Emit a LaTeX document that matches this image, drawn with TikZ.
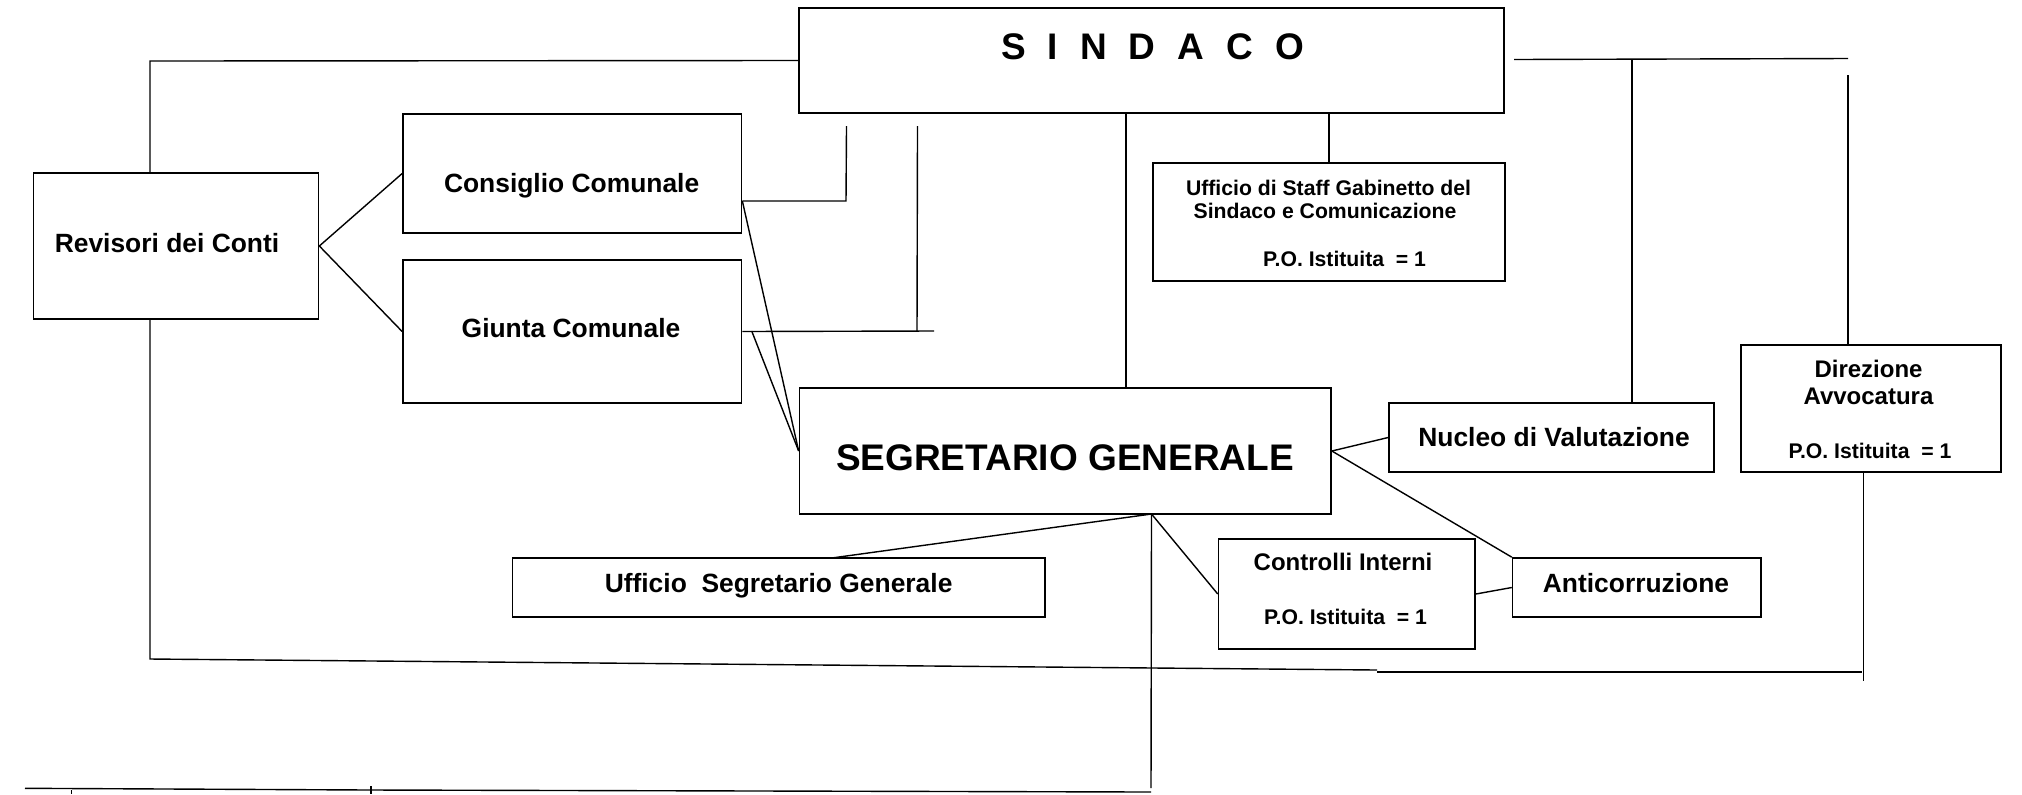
\documentclass[tikz,border=0pt]{standalone}
\usepackage{fontspec}
\setmainfont{Liberation Sans}
\begin{document}
\begin{tikzpicture}[x=0.5pt,y=-0.5pt,
  box/.style={draw,line width=0.85pt,inner sep=0pt},
  lnk/.style={line width=0.7pt},
  txt/.style={anchor=base,inner sep=0pt,font=\bfseries\fontsize{13.2}{15}\selectfont},
  txtm/.style={anchor=base,inner sep=0pt,font=\bfseries\fontsize{12}{14}\selectfont},
  txts/.style={anchor=base,inner sep=0pt,font=\bfseries\fontsize{10.6}{12}\selectfont},
  txtl/.style={anchor=base,inner sep=0pt,font=\bfseries\fontsize{18.5}{22}\selectfont}]
\fill[white] (0,0) rectangle (2022,794);
\useasboundingbox (0,0) rectangle (2022,794);

% boxes
\node[box,minimum width=352.5pt,minimum height=52.5pt] (sindaco) at (1151.5,60.5) {};
\node[box,minimum width=142.5pt,minimum height=73pt] (rev) at (176,246) {};
\node[box,minimum width=169.25pt,minimum height=59.5pt] (cons) at (572.25,173.5) {};
\node[box,minimum width=169.25pt,minimum height=71.5pt] (giunta) at (572.25,331.5) {};
\node[box,minimum width=176pt,minimum height=59pt] (staff) at (1329,222) {};
\node[box,minimum width=265.75pt,minimum height=63pt] (sg) at (1065.25,451) {};
\node[box,minimum width=162.5pt,minimum height=34.5pt] (nucleo) at (1551.5,437.5) {};
\node[box,minimum width=130pt,minimum height=63.5pt] (dir) at (1871,408.5) {};
\node[box,minimum width=128.2pt,minimum height=55.3pt] (contr) at (1346.8,594) {};
\node[box,minimum width=124.2pt,minimum height=29.5pt] (anti) at (1636.8,587.5) {};
\node[box,minimum width=266.2pt,minimum height=29.5pt] (ufsg) at (778.8,587.5) {};

% texts
\node[txtl] (sindacot) at (1152.5,59)
  {S\hspace{11pt}I\hspace{11pt}N\hspace{11pt}D\hspace{11pt}A\hspace{11pt}C\hspace{11pt}O};
\node[txt] (revt) at (167,252.7) {Revisori dei Conti};
\node[txt] (const) at (571.6,192.7) {Consiglio Comunale};
\node[txt] (giuntat) at (571,337) {Giunta Comunale};
\node[txtl] (sgt) at (1065,470) {SEGRETARIO GENERALE};
\node[txts] (stafft1) at (1328.5,195) {Ufficio di Staff Gabinetto del};
\node[txts] (stafft2) at (1325,218) {Sindaco e Comunicazione};
\node[txts] (stafft3) at (1344.6,266.7) {P.O. Istituita\ \ = 1};
\node[txtm] (dirt1) at (1868.5,377.3) {Direzione};
\node[txtm] (dirt2) at (1868.5,404) {Avvocatura};
\node[txts] (dirt3) at (1870,458.3) {P.O. Istituita\ \ = 1};
\node[txt] (nucleot) at (1554,446.7) {Nucleo di Valutazione};
\node[txt] (antit) at (1636,592.3) {Anticorruzione};
\node[txtm] (contrt1) at (1343,570.7) {Controlli Interni};
\node[txts] (contrt2) at (1345.6,624) {P.O. Istituita\ \ = 1};
\node[txt] (ufsgt) at (778.6,592.3) {Ufficio\ \ Segretario Generale};

% coordinates
\coordinate (tl) at (150,61);
\coordinate (bl) at (150,659);
\coordinate (bm1) at (1377,670);
\coordinate (bm2) at (1377,672);
\coordinate (br) at (1862,672);
\coordinate (dr) at (1863.5,681);
\coordinate (c1) at (846,201);
\coordinate (c1t) at (846.5,126);
\coordinate (g1) at (917,331.5);
\coordinate (g1t) at (917.5,126);
\coordinate (g1e) at (934,331);
\coordinate (gd) at (751.7,331);
\coordinate (sv) at (1126,0);
\coordinate (rt1) at (1514,59.5);
\coordinate (rt2) at (1848,58.5);
\coordinate (nv) at (1632,59);
\coordinate (dv) at (1848,75);
\coordinate (hub) at (1151.5,514);
\coordinate (us) at (831.7,558);
\coordinate (hb) at (1151,788);
\coordinate (b0) at (25,788.3);
\coordinate (b1) at (371,790);
\coordinate (b2) at (1151,792);
\coordinate (t1) at (71.6,790);
\coordinate (t1b) at (71.6,794);
\coordinate (t2) at (371,786);
\coordinate (t2b) at (371,794);

% connectors
\draw[lnk] (sindaco.west) -- (tl) -- (tl |- rev.north);
\draw[lnk] (rev.south -| bl) -- (bl) -- (bm1);
\draw[lnk] (bm2) -- (br);
\draw[lnk] (dr |- dir.south) -- (dr);
\draw[lnk] (rev.east) -- (cons.west);
\draw[lnk] (rev.east) -- (giunta.west);
\draw[lnk] (c1 -| cons.east) -- (c1) -- (c1t);
\draw[lnk] (g1 -| giunta.east) -- (g1e);
\draw[lnk] (g1t) -- (g1);
\draw[lnk] (c1 -| cons.east) -- (sg.west);
\draw[lnk] (gd) -- (sg.west);
\draw[lnk] (sv |- sindaco.south) -- (sv |- sg.north);
\draw[lnk] (staff.north) -- (staff.north |- sindaco.south);
\draw[lnk] (rt1) -- (rt2);
\draw[lnk] (nv) -- (nv |- nucleo.north);
\draw[lnk] (dv) -- (dv |- dir.north);
\draw[lnk] (sg.east) -- (nucleo.west);
\draw[lnk] (sg.east) -- (anti.north west);
\draw[lnk] (contr.east) -- (anti.west);
\draw[lnk] (hub) -- (contr.west);
\draw[lnk] (hub) -- (us);
\draw[lnk] (hub) -- (hb);
\draw[lnk] (b0) -- (b1) -- (b2);
\draw[lnk] (t1) -- (t1b);
\draw[lnk] (t2) -- (t2b);
\end{tikzpicture}
\end{document}
